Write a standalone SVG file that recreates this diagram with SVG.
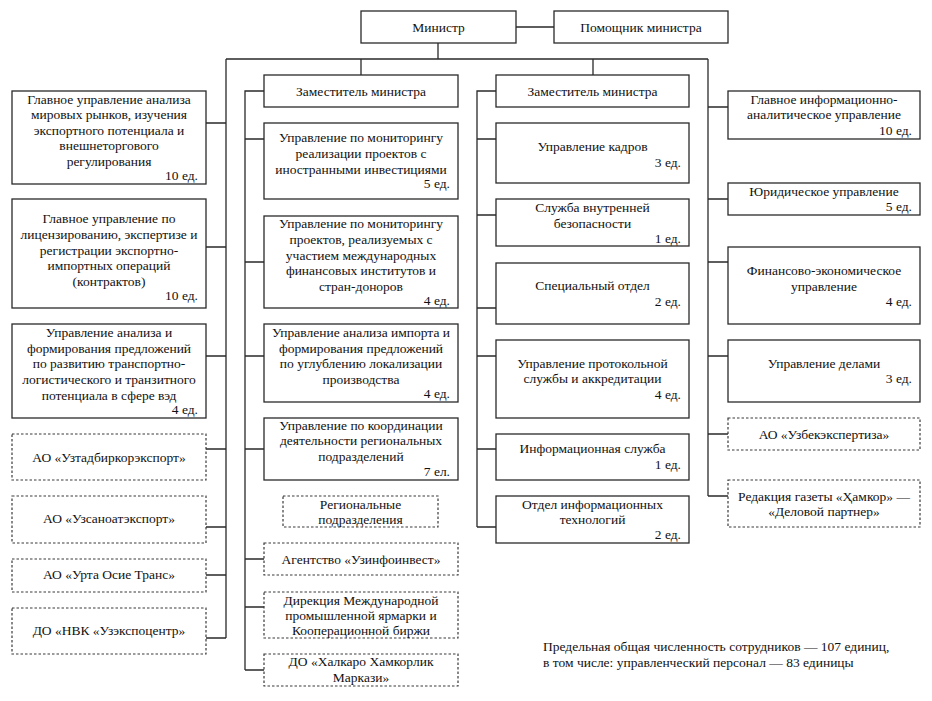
<svg xmlns="http://www.w3.org/2000/svg" width="932" height="701" viewBox="0 0 932 701">
<style>
.box{fill:#fff;stroke:#2a2a2a;stroke-width:1.3}
.dbox{fill:#fff;stroke:#3a3a3a;stroke-width:1.2;stroke-dasharray:2.5 2}
text{font-family:"Liberation Serif","Times New Roman",serif;font-size:13.5px;fill:#111}
.t{text-anchor:middle}
.c{text-anchor:end}
.ln{fill:none;stroke:#2a2a2a;stroke-width:1.3}
</style>
<rect width="932" height="701" fill="#fff"/>
<g id="connectors" class="ln">
<path d="M516 27H554M438 43V59M226 59H708M226 59V638"/>
<path d="M206 123H226M206 247H226M206 356H226M206 449H226M206 527H226M206 575H226M206 638H226"/>
<path d="M361 59V75M264 91H245V670"/>
<path d="M245 139H264M245 262H264M245 356H264M245 449H264M245 559H264M245 607H264M245 670H264"/>
<path d="M593 59V75M496 91H477V527"/>
<path d="M477 139H496M477 215H496M477 308H496M477 356H496M477 449H496M477 527H496"/>
<path d="M708 59V496"/>
<path d="M708 107H728M708 199H728M708 262H728M708 356H728M708 434H728M708 496H728"/>
</g>
<g id="minister"><rect class="box" x="361" y="11" width="155" height="32"/><text class="t" x="438.5" y="32">Министр</text></g>
<g id="assistant"><rect class="box" x="554" y="11" width="174" height="32"/><text class="t" x="641" y="32">Помощник министра</text></g>

<g id="L1"><rect class="box" x="12" y="91" width="194" height="93"/>
<text class="t" x="109" y="103.5">Главное управление анализа</text>
<text class="t" x="109" y="119">мировых рынков, изучения</text>
<text class="t" x="109" y="134.5">экспортного потенциала и</text>
<text class="t" x="109" y="150">внешнеторгового</text>
<text class="t" x="109" y="165.5">регулирования</text>
<text class="c" x="198" y="180">10 ед.</text></g>
<g id="L2"><rect class="box" x="12" y="199" width="194" height="109"/>
<text class="t" x="109" y="222.5">Главное управление по</text>
<text class="t" x="109" y="238.5">лицензированию, экспертизе и</text>
<text class="t" x="109" y="254.5">регистрации экспортно-</text>
<text class="t" x="109" y="270">импортных операций</text>
<text class="t" x="109" y="286">(контрактов)</text>
<text class="c" x="198" y="300">10 ед.</text></g>
<g id="L3"><rect class="box" x="12" y="324" width="194" height="94"/>
<text class="t" x="109" y="337">Управление анализа и</text>
<text class="t" x="109" y="352.5">формирования предложений</text>
<text class="t" x="109" y="368">по развитию транспортно-</text>
<text class="t" x="109" y="384">логистического и транзитного</text>
<text class="t" x="109" y="400">потенциала в сфере вэд</text>
<text class="c" x="198" y="413.5">4 ед.</text></g>
<g id="L4"><rect class="dbox" x="12" y="434" width="194" height="46"/><text class="t" x="109" y="461.5">АО «Узтадбиркорэкспорт»</text></g>
<g id="L5"><rect class="dbox" x="12" y="496" width="194" height="47"/><text class="t" x="109" y="523">АО «Узсаноатэкспорт»</text></g>
<g id="L6"><rect class="dbox" x="12" y="559" width="194" height="33"/><text class="t" x="109" y="579">АО «Урта Осие Транс»</text></g>
<g id="L7"><rect class="dbox" x="12" y="608" width="194" height="46"/><text class="t" x="109" y="635">ДО «НВК «Узэкспоцентр»</text></g>

<g id="deputy1"><rect class="box" x="264" y="75" width="194" height="32"/><text class="t" x="361" y="96">Заместитель министра</text></g>
<g id="M2"><rect class="box" x="264" y="123" width="194" height="76"/>
<text class="t" x="361" y="142">Управление по мониторингу</text>
<text class="t" x="361" y="158">реализации проектов с</text>
<text class="t" x="361" y="174">иностранными инвестициями</text>
<text class="c" x="450" y="188">5 ед.</text></g>
<g id="M3"><rect class="box" x="264" y="216" width="194" height="92"/>
<text class="t" x="361" y="227.5">Управление по мониторингу</text>
<text class="t" x="361" y="243.5">проектов, реализуемых с</text>
<text class="t" x="361" y="259.5">участием международных</text>
<text class="t" x="361" y="275">финансовых институтов и</text>
<text class="t" x="361" y="290.5">стран-доноров</text>
<text class="c" x="450" y="304.5">4 ед.</text></g>
<g id="M4"><rect class="box" x="264" y="324" width="194" height="78"/>
<text class="t" x="361" y="336.5">Управление анализа импорта и</text>
<text class="t" x="361" y="352.5">формирования предложений</text>
<text class="t" x="361" y="368">по углублению локализации</text>
<text class="t" x="361" y="383.5">производства</text>
<text class="c" x="450" y="397.5">4 ед.</text></g>
<g id="M5"><rect class="box" x="264" y="418" width="194" height="62"/>
<text class="t" x="361" y="429.5">Управление по координации</text>
<text class="t" x="361" y="445">деятельности региональных</text>
<text class="t" x="361" y="461">подразделений</text>
<text class="c" x="450" y="476">7 ел.</text></g>
<g id="M6"><rect class="dbox" x="283" y="496" width="155" height="31"/>
<text class="t" x="360.5" y="508.5">Региональные</text>
<text class="t" x="360.5" y="523.5">подразделения</text></g>
<g id="M7"><rect class="dbox" x="264" y="543" width="194" height="32"/><text class="t" x="361" y="563.5">Агентство «Узинфоинвест»</text></g>
<g id="M8"><rect class="dbox" x="264" y="592" width="194" height="46"/>
<text class="t" x="361" y="604.5">Дирекция Международной</text>
<text class="t" x="361" y="619.5">промышленной ярмарки и</text>
<text class="t" x="361" y="634.5">Кооперационной биржи</text></g>
<g id="M9"><rect class="dbox" x="264" y="654" width="194" height="32"/>
<text class="t" x="361" y="666">ДО «Халкаро Хамкорлик</text>
<text class="t" x="361" y="681.5">Маркази»</text></g>

<g id="deputy2"><rect class="box" x="496" y="75" width="193" height="32"/><text class="t" x="592.5" y="96">Заместитель министра</text></g>
<g id="N2"><rect class="box" x="496" y="123" width="193" height="60"/>
<text class="t" x="592.5" y="151">Управление кадров</text>
<text class="c" x="681" y="167">3 ед.</text></g>
<g id="N3"><rect class="box" x="496" y="199" width="193" height="47"/>
<text class="t" x="592.5" y="212">Служба внутренней</text>
<text class="t" x="592.5" y="227.5">безопасности</text>
<text class="c" x="681" y="243">1 ед.</text></g>
<g id="N4"><rect class="box" x="496" y="263" width="193" height="61"/>
<text class="t" x="592.5" y="290">Специальный отдел</text>
<text class="c" x="681" y="305.5">2 ед.</text></g>
<g id="N5"><rect class="box" x="496" y="340" width="193" height="78"/>
<text class="t" x="592.5" y="367.5">Управление протокольной</text>
<text class="t" x="592.5" y="383">службы и аккредитации</text>
<text class="c" x="681" y="398.5">4 ед.</text></g>
<g id="N6"><rect class="box" x="496" y="434" width="193" height="46"/>
<text class="t" x="592.5" y="453">Информационная служба</text>
<text class="c" x="681" y="468.5">1 ед.</text></g>
<g id="N7"><rect class="box" x="496" y="496" width="193" height="47"/>
<text class="t" x="592.5" y="508.5">Отдел информационных</text>
<text class="t" x="592.5" y="523.5">технологий</text>
<text class="c" x="681" y="539">2 ед.</text></g>

<g id="R1"><rect class="box" x="728" y="91" width="192" height="48"/>
<text class="t" x="824" y="103.5">Главное информационно-</text>
<text class="t" x="824" y="119">аналитическое управление</text>
<text class="c" x="912" y="134.5">10 ед.</text></g>
<g id="R2"><rect class="box" x="728" y="183" width="192" height="32"/>
<text class="t" x="824" y="196">Юридическое управление</text>
<text class="c" x="912" y="211">5 ед.</text></g>
<g id="R3"><rect class="box" x="728" y="247" width="192" height="77"/>
<text class="t" x="824" y="275">Финансово-экономическое</text>
<text class="t" x="824" y="290.5">управление</text>
<text class="c" x="912" y="305.5">4 ед.</text></g>
<g id="R4"><rect class="box" x="728" y="340" width="192" height="62"/>
<text class="t" x="824" y="367.5">Управление делами</text>
<text class="c" x="912" y="383">3 ед.</text></g>
<g id="R5"><rect class="dbox" x="728" y="418" width="192" height="32"/><text class="t" x="824" y="438.5">АО «Узбекэкспертиза»</text></g>
<g id="R6"><rect class="dbox" x="728" y="480" width="192" height="47"/>
<text class="t" x="824" y="500.5">Редакция газеты «Ҳамкор» —</text>
<text class="t" x="824" y="516">«Деловой партнер»</text></g>

<g id="footer">
<text x="543" y="651">Предельная общая численность сотрудников — 107 единиц,</text>
<text x="543" y="666.5">в том числе: управленческий персонал — 83 единицы</text>
</g>
</svg>
